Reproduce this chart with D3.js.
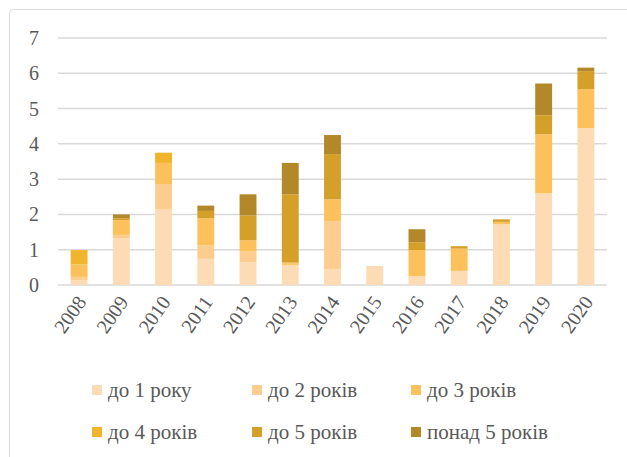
<!DOCTYPE html>
<html>
<head>
<meta charset="utf-8">
<script src="https://cdn.jsdelivr.net/npm/d3@7"></script>
<style>
  body { margin: 0; background: #fff; }
  svg text { font-family: "Times New Roman", Tinos, "Liberation Serif", "Noto Serif", "DejaVu Serif", serif; }
</style>
</head>
<body>
<div id="chart"></div>
<script>
// chart values
var years  = ["2008","2009","2010","2011","2012","2013","2014","2015","2016","2017","2018","2019","2020"]
var series = ["до 1 року","до 2 років","до 3 років","до 4 років","до 5 років","понад 5 років"]
var upTo1  = [0.14, 1.32, 2.14, 0.74, 0.64, 0.57, 0.45, 0.54, 0.25, 0.40, 1.72, 2.60, 4.45]
var upTo2  = [0.09, 0.10, 0.72, 0.39, 0.32, 0.00, 1.36, 0.00, 0.00, 0.00, 0.00, 0.00, 0.00]
var upTo3  = [0.35, 0.42, 0.60, 0.76, 0.31, 0.04, 0.62, 0.00, 0.74, 0.63, 0.07, 1.67, 1.10]
var upTo4  = [0.41, 0.00, 0.29, 0.00, 0.00, 0.03, 0.00, 0.00, 0.00, 0.00, 0.00, 0.00, 0.00]
var upTo5  = [0.00, 0.05, 0.00, 0.21, 0.70, 1.93, 1.28, 0.00, 0.22, 0.07, 0.07, 0.54, 0.51]
var over5  = [0.00, 0.11, 0.00, 0.15, 0.60, 0.89, 0.54, 0.00, 0.37, 0.00, 0.00, 0.90, 0.10]
var yTicks = [0, 1, 2, 3, 4, 5, 6, 7]
var colors = ["#FDDBB4", "#FDCD90", "#FDC15C", "#F1B42D", "#D4A02A", "#B38828"]

var svgWidth = 627, svgHeight = 457
var margin = {left: 58, right: 20, top: 38, bottom: 172}

var svg = d3.select("#chart")
  .append("svg")
  .attr("width", svgWidth)
  .attr("height", svgHeight)

// outer frame
svg.append("rect")
  .attr("x", 9.5).attr("y", 9.5)
  .attr("width", 640).attr("height", 470)
  .attr("rx", 4)
  .attr("fill", "none")
  .attr("stroke", "#D9D9D9")

var x = d3.scaleBand()
  .domain(years)
  .range([margin.left, svgWidth - margin.right])
  .paddingInner(0.6)
  .paddingOuter(0.3)

var y = d3.scaleLinear()
  .domain([0, 7])
  .range([svgHeight - margin.bottom, margin.top])

// gridlines
svg.append("g")
  .selectAll("line")
  .data(yTicks)
  .enter()
  .append("line")
  .attr("x1", margin.left)
  .attr("x2", svgWidth - margin.right)
  .attr("y1", function(d){ return y(d) })
  .attr("y2", function(d){ return y(d) })
  .attr("stroke", "#D9D9D9")
  .attr("stroke-width", 1.5)

// y labels
svg.append("g")
  .selectAll("text")
  .data(yTicks)
  .enter()
  .append("text")
  .attr("x", 39)
  .attr("y", function(d){ return y(d) })
  .attr("dy", "0.35em")
  .attr("text-anchor", "end")
  .attr("font-size", 20)
  .attr("fill", "#595959")
  .text(function(d){ return d })

// stack the series
var rows = years.map(function(yr, i){
  return {year: yr, s0: upTo1[i], s1: upTo2[i], s2: upTo3[i], s3: upTo4[i], s4: upTo5[i], s5: over5[i]}
})
var stacked = d3.stack().keys(["s0","s1","s2","s3","s4","s5"])(rows)

svg.append("g")
  .selectAll("g")
  .data(stacked)
  .enter()
  .append("g")
  .attr("fill", function(d, i){ return colors[i] })
  .selectAll("rect")
  .data(function(d){ return d })
  .enter()
  .append("rect")
  .attr("x", function(d){ return x(d.data.year) })
  .attr("width", x.bandwidth())
  .attr("y", function(d){ return y(d[1]) })
  .attr("height", function(d){ return y(d[0]) - y(d[1]) })

// x labels, rotated
svg.append("g")
  .selectAll("text")
  .data(years)
  .enter()
  .append("text")
  .attr("text-anchor", "end")
  .attr("font-size", 20)
  .attr("fill", "#595959")
  .attr("transform", function(d){
    return "translate(" + (x(d) + x.bandwidth() / 2 + 8) + "," + 302 + ") rotate(-55)"
  })
  .text(function(d){ return d })

// legend
var legendPos = [[92, 390], [252, 390], [411, 390], [92, 432], [252, 432], [411, 432]]
var legend = svg.append("g")
  .selectAll("g")
  .data(series)
  .enter()
  .append("g")
  .attr("transform", function(d, i){ return "translate(" + legendPos[i][0] + "," + legendPos[i][1] + ")" })

legend.append("rect")
  .attr("x", 0).attr("y", -5)
  .attr("width", 10).attr("height", 10)
  .attr("fill", function(d, i){ return colors[i] })

legend.append("text")
  .attr("x", 16)
  .attr("dy", "0.35em")
  .attr("font-size", 21)
  .attr("fill", "#595959")
  .text(function(d){ return d })
</script>
</body>
</html>
